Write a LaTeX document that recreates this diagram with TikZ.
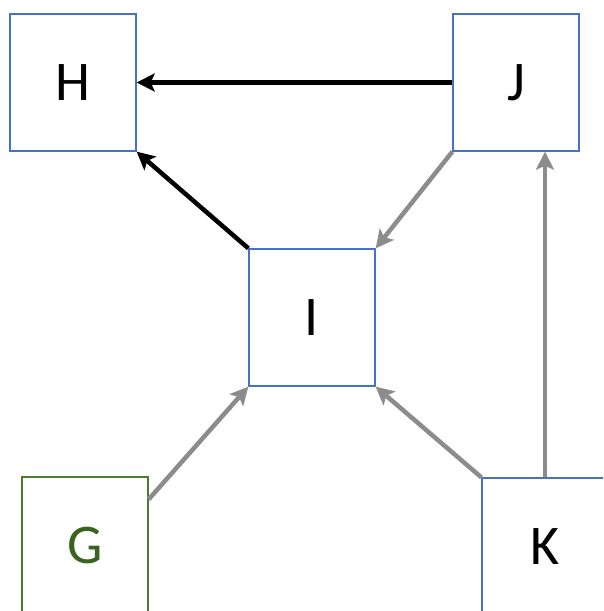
\documentclass[tikz,border=0pt]{standalone}
\usepackage{fontspec}
\setmainfont{Carlito}
\usetikzlibrary{arrows.meta,calc}
\definecolor{boxblue}{HTML}{4472C4}
\definecolor{boxgreen}{HTML}{4E7A2E}
\definecolor{txtgreen}{HTML}{3B6320}
\definecolor{linkgray}{HTML}{8C8C8C}
\begin{document}
\begin{tikzpicture}[x=1pt,y=-1pt,
  card/.style={draw=boxblue,line width=1.3pt,fill=white,inner sep=0pt,
    minimum width=126pt,minimum height=137pt,
    font=\fontsize{56}{60}\selectfont,text=black},
  greencard/.style={card,draw=boxgreen,text=txtgreen},
  tip/.style={-{Stealth[length=18pt,width=18pt,inset=4pt]}},
  strong/.style={tip,line width=4.5pt,draw=black},
  soft/.style={tip,line width=4.5pt,draw=linkgray}]
\useasboundingbox (0,0) rectangle (603,611);
\clip (0,0) rectangle (603,611);

\node[card] (H) at (73,82.5) {H};
\node[card] (J) at (516,82.5) {J};
\node[card] (I) at (312,317.5) {I};
\node[greencard] (G) at (85,545.5) {G};
\node[card] (K) at (545,546.5) {K};

\coordinate (gout) at ([yshift=-23pt]G.north east);
\coordinate (jin) at (J.south -| K.north);

\draw[strong] (J.west) -- (H.east);
\draw[strong] (I.north west) -- (H.south east);
\draw[soft] (J.south west) -- (I.north east);
\draw[soft] (gout) -- (I.south west);
\draw[soft] (K.north west) -- (I.south east);
\draw[soft] (K.north) -- (jin);
\end{tikzpicture}
\end{document}
